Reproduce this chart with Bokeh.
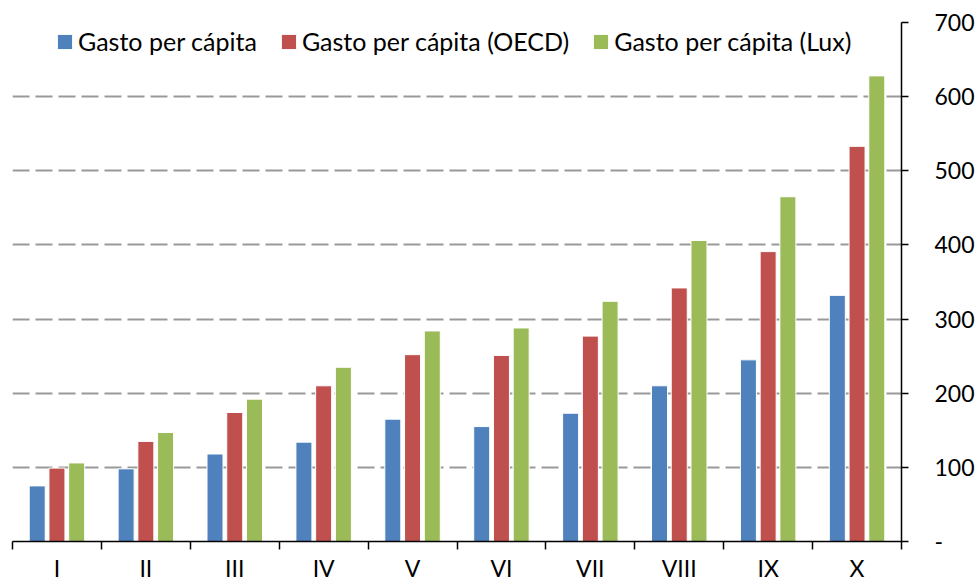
from bokeh.plotting import figure
from bokeh.models import (ColumnDataSource, Range1d, FixedTicker,
                          Legend, LegendItem)
from bokeh.transform import dodge
from bokeh.embed import file_html
from bokeh.resources import INLINE

# ---- data ----
categories = ["I", "II", "III", "IV", "V", "VI", "VII", "VIII", "IX", "X"]
gasto = [75, 98, 118, 134, 165, 155, 173, 210, 245, 332]
gasto_oecd = [99, 135, 174, 210, 252, 251, 277, 342, 391, 533]
gasto_lux = [106, 147, 192, 235, 284, 288, 324, 406, 465, 628]
series_names = ["Gasto per cápita", "Gasto per cápita (OECD)", "Gasto per cápita (Lux)"]
y_ticks = [0, 100, 200, 300, 400, 500, 600, 700]

colors = ["#4F81BD", "#C0504D", "#9BBB59"]
FONT = "Lato"

centers = [i + 0.5 for i in range(len(categories))]
source = ColumnDataSource(dict(x=centers, a=gasto, b=gasto_oecd, c=gasto_lux))

p = figure(width=977, height=584, output_backend="svg", toolbar_location=None,
           x_range=Range1d(0, len(categories)), y_range=Range1d(0, 700),
           y_axis_location="right", x_axis_location="below",
           min_border_left=12, min_border_right=74, min_border_top=22,
           min_border_bottom=40)
p.outline_line_color = None
p.background_fill_color = "white"

offsets = [-0.222, 0.0, 0.222]
renderers = []
for col, off, color in zip(["a", "b", "c"], offsets, colors):
    r = p.vbar(x=dodge("x", off), top=col, width=0.18, source=source,
               fill_color=color, line_color="white", line_width=1)
    renderers.append(r)

# x axis: labels at centers, ticks at category boundaries
xa = p.xaxis[0]
xa.ticker = FixedTicker(ticks=centers, minor_ticks=list(range(len(categories) + 1)))
xa.major_label_overrides = {c: lab for c, lab in zip(centers, categories)}
xa.major_tick_out = 0
xa.major_tick_in = 0
xa.minor_tick_out = 8
xa.minor_tick_in = 0
xa.minor_tick_line_color = "black"
xa.minor_tick_line_width = 1.5
xa.axis_line_color = "black"
xa.axis_line_width = 1.5
xa.major_label_text_font = FONT
xa.major_label_text_font_size = "23px"
xa.major_label_text_color = "black"
xa.major_label_standoff = 4

ya = p.yaxis[0]
ya.ticker = FixedTicker(ticks=y_ticks, minor_ticks=[])
ya.major_label_overrides = {0: "-"}
ya.major_tick_out = 7
ya.major_tick_in = 0
ya.major_tick_line_width = 1.5
ya.major_tick_line_color = "black"
ya.axis_line_color = "black"
ya.axis_line_width = 1.5
ya.major_label_text_font = FONT
ya.major_label_text_font_size = "23px"
ya.major_label_text_color = "black"
ya.major_label_standoff = 26

p.xgrid.grid_line_color = None
p.ygrid.grid_line_color = "#999999"
p.ygrid.grid_line_width = 2
p.ygrid.grid_line_dash = "17 6"

legend = Legend(items=[LegendItem(label=n, renderers=[r]) for n, r in zip(series_names, renderers)],
                orientation="horizontal", location=(43, 485))
legend.background_fill_alpha = 0
legend.border_line_color = None
legend.padding = 0
legend.margin = 0
legend.glyph_width = 19
legend.glyph_height = 19
legend.label_standoff = 4
legend.spacing = 22
legend.label_text_font = FONT
legend.label_text_font_size = "25px"
legend.label_text_color = "black"
p.add_layout(legend, "center")

open("out.html", "w").write(file_html(p, INLINE))
